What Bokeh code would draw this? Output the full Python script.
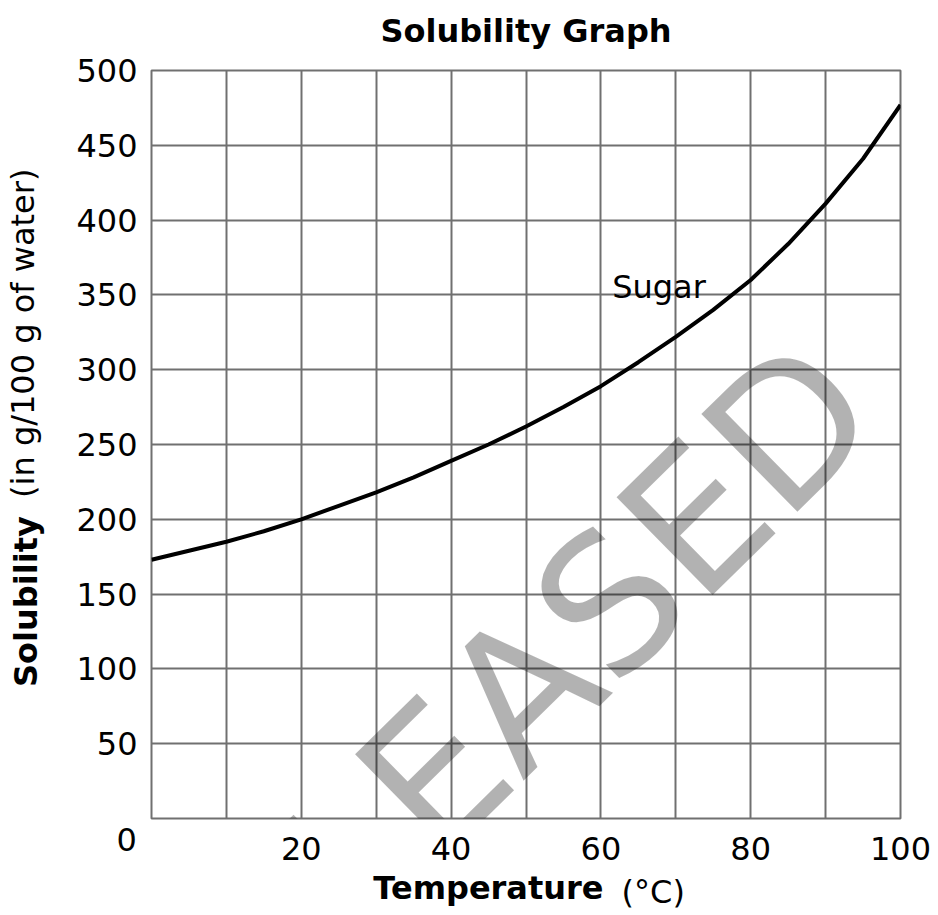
from bokeh.plotting import figure
from bokeh.models import FixedTicker, Label, Range1d, LinearAxis, Title
from bokeh.embed import file_html
from bokeh.resources import INLINE

# ---- data ----
temperature = [0, 5, 10, 15, 20, 25, 30, 35, 40, 45, 50, 55, 60, 65, 70, 75, 80, 85, 90, 95, 100]
sugar_solubility = [173, 179, 185, 192, 200, 209, 218, 228, 239, 250, 262, 275, 289, 305, 322, 340,
                    360, 384, 411, 441, 477]
x_tick_labels = [20, 40, 60, 80, 100]
x_grid = [0, 10, 20, 30, 40, 50, 60, 70, 80, 90, 100]
y_tick_labels = [50, 100, 150, 200, 250, 300, 350, 400, 450, 500]
y_grid = [0, 50, 100, 150, 200, 250, 300, 350, 400, 450, 500]
origin_label = "0"

chart_title = "Solubility Graph"
x_title_bold, x_title_unit = "Temperature", "(°C)"
y_title_bold, y_title_rest = "Solubility", "(in g/100 g of water)"
series_name = "Sugar"

FONT = "DejaVu Sans"
GRID = "#707070"
EM, NBSP = "\u2003", "\u00a0"   # non-collapsing spaces used to shift centred labels

p = figure(width=938, height=915, x_range=Range1d(0, 100), y_range=Range1d(0, 500),
           output_backend="svg", toolbar_location=None, title_location=None,
           min_border_left=151, min_border_right=38, min_border_top=70, min_border_bottom=97)

p.outline_line_color = GRID
p.outline_line_width = 2

p.xgrid.ticker = FixedTicker(ticks=x_grid)
p.ygrid.ticker = FixedTicker(ticks=y_grid)
for g in (p.xgrid, p.ygrid):
    g.grid_line_color = GRID
    g.grid_line_width = 2
    g.grid_line_alpha = 1


def text_only(axis, bold=False):
    axis.axis_line_color = None
    axis.major_tick_line_color = None
    axis.minor_tick_line_color = None
    axis.major_tick_out = 0
    axis.major_tick_in = 0
    axis.minor_tick_out = 0
    axis.minor_tick_in = 0
    axis.major_label_text_font = FONT
    axis.major_label_text_font_size = "32px"
    axis.major_label_text_font_style = "bold" if bold else "normal"
    axis.major_label_text_color = "black"
    axis.axis_label_text_font = FONT
    axis.axis_label_text_font_size = "32px"
    axis.axis_label_text_font_style = "normal"
    axis.axis_label_text_color = "black"


xaxis = p.xaxis[0]
yaxis = p.yaxis[0]
xaxis.ticker = FixedTicker(ticks=x_tick_labels, minor_ticks=[])
yaxis.ticker = FixedTicker(ticks=y_tick_labels, minor_ticks=[])
text_only(xaxis)
text_only(yaxis)
yaxis.major_label_standoff = 14

# the "0" at the corner, below-left of the origin
zero_title = Title(text=origin_label, align="left", offset=-35, vertical_align="top", standoff=19,
                   text_font=FONT, text_font_size="32px", text_font_style="normal",
                   text_color="black")

# x tick labels sit under the "0" panel (pulled back up)
xaxis.major_label_standoff = -26

# x axis title: bold word as the axis label, unit on a tick-less axis pulled up to the same row
xaxis.axis_label = x_title_bold + EM * 2 + NBSP
xaxis.axis_label_text_font_style = "bold"
xaxis.axis_label_standoff = 6

unit_axis = LinearAxis(ticker=FixedTicker(ticks=[], minor_ticks=[]),
                       axis_label=EM * 7 + NBSP * 3 + x_title_unit)
text_only(unit_axis)
unit_axis.major_label_standoff = 0
unit_axis.axis_label_standoff = -37

p.below = [zero_title, xaxis, unit_axis]

# chart title, as a text-only axis above the frame
title_axis = LinearAxis(ticker=FixedTicker(ticks=[50], minor_ticks=[]),
                        major_label_overrides={50: chart_title})
text_only(title_axis, bold=True)
title_axis.major_label_standoff = 21
p.add_layout(title_axis, "above")

# y axis title: bold word as tick label, the rest as axis label in the same column
ytitle_axis = LinearAxis(ticker=FixedTicker(ticks=[145], minor_ticks=[]),
                         major_label_overrides={145: y_title_bold},
                         major_label_orientation="vertical",
                         axis_label=EM * 6 + NBSP * 3 + y_title_rest)
text_only(ytitle_axis, bold=True)
ytitle_axis.major_label_standoff = 28
ytitle_axis.axis_label_standoff = -37
p.add_layout(ytitle_axis, "left")

p.line(temperature, sugar_solubility, line_color="black", line_width=4)

p.add_layout(Label(x=61.5, y=355.5, text=series_name, text_font=FONT, text_font_size="32px",
                   text_color="black", text_align="left", text_baseline="alphabetic"))

# watermark
p.add_layout(Label(x=490, y=721, x_units="canvas", y_units="canvas", text="RELEASED",
                   text_font=FONT, text_font_size="188px", text_color="black", text_alpha=0.3,
                   text_align="center", text_baseline="alphabetic", angle=44.5, angle_units="deg"))

open("out.html", "w").write(file_html(p, INLINE))
